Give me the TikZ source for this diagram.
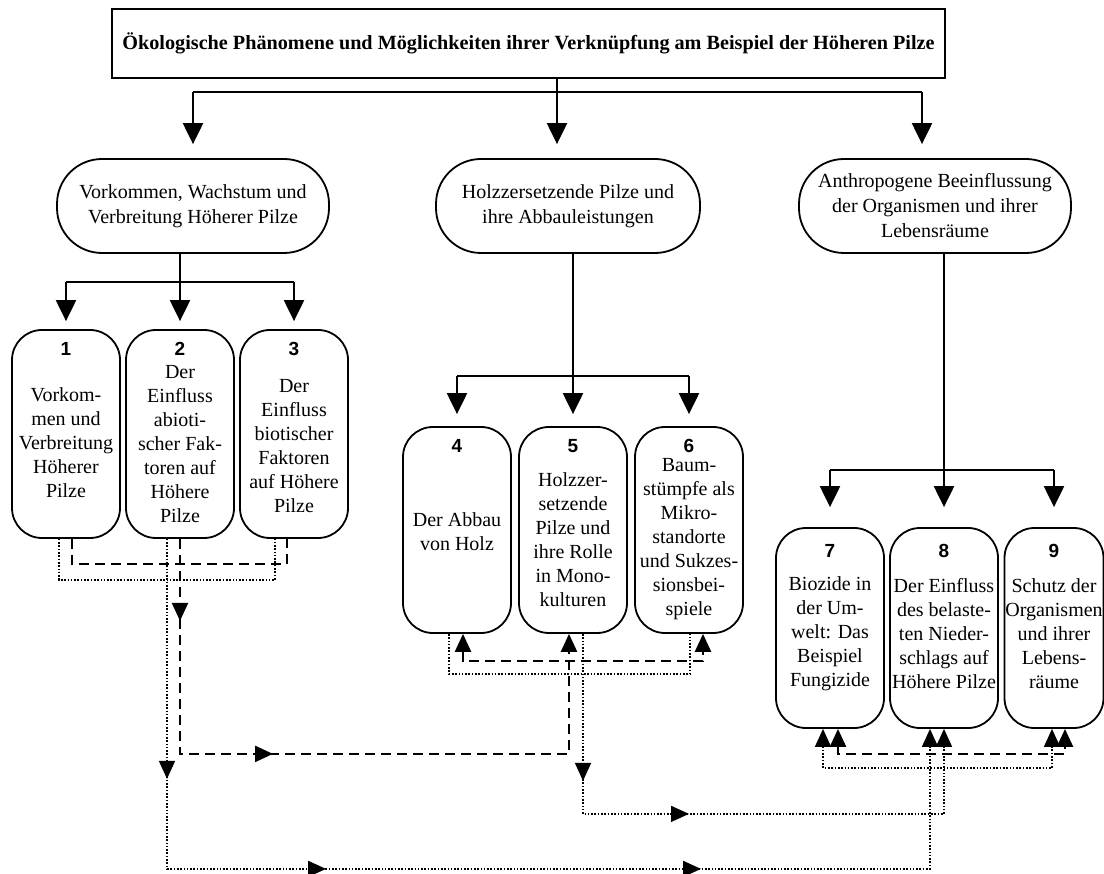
\documentclass[tikz,border=0pt]{standalone}
\usepackage{fontspec}
\setmainfont{Liberation Serif}
\setsansfont{Liberation Sans}
\usetikzlibrary{arrows.meta,positioning,decorations.markings}
\begin{document}
\begin{tikzpicture}[x=1pt, y=-1pt,
    head/.style={draw, line width=2pt, minimum width=833pt, minimum height=69pt, font=\fontsize{20.2}{24}\selectfont\bfseries},
    topic/.style={draw, line width=1.8pt, rounded corners=45pt, minimum width=272pt, minimum height=94pt, align=center, font=\fontsize{20}{25}\selectfont},
    theme/.style={draw, line width=1.8pt, rounded corners=30pt, minimum width=108pt, minimum height=208pt},
    num/.style={inner sep=0pt, font=\fontsize{19}{22}\selectfont\sffamily\bfseries},
    txt/.style={inner sep=0pt, align=center, font=\fontsize{20}{24}\selectfont},
    link/.style={line width=2.2pt},
    dashl/.style={line width=2.4pt, dash pattern=on 10pt off 6pt},
    dotl/.style={line width=1.6pt, dash pattern=on 1.6pt off 1.7pt},
    big/.style={arrows={-Triangle[length=21pt,width=20pt]}},
    arr/.style={arrows={-Triangle[length=18pt,width=16pt]}},
    both/.style={arrows={Triangle[length=18pt,width=16pt]-Triangle[length=18pt,width=16pt]}},
    midarr/.style={postaction={decorate, decoration={markings, mark=at position #1 with {\arrow{Triangle[length=18pt,width=16pt]}}}}}]
        \useasboundingbox (0,0) rectangle (1104,874);
        \node[head] (title) at (528.5,43.5) {Ökologische Phänomene und Möglichkeiten ihrer Verknüpfung am Beispiel der Höheren Pilze};
        \node[topic] (vork) at (193,206) {Vorkommen, Wachstum und\\Verbreitung Höherer Pilze};
        \node[topic, minimum width=264pt] (holz) at (568,206) {Holzzersetzende Pilze und\\ihre Abbauleistungen};
        \node[topic] (anth) at (935,206) {Anthropogene Beeinflussung\\der Organismen und ihrer\\Lebensräume};
        \coordinate (f0) at (557,92);
        \draw[link] (title.south -| f0) -- (f0);
        \draw[link] (f0 -| vork) -- ([xshift=-13pt]f0 -| anth);
        \draw[link, big, shorten >=14pt] (f0 -| vork) -- (vork);
        \draw[link, big, shorten >=14pt] (f0) -- (f0 |- holz.north);
        \draw[link, big, shorten >=14pt] ([xshift=-13pt]f0 -| anth) -- ([xshift=-13pt]anth.north);
        \node[theme] (b1) at (66,434) {};
        \node[theme] (b2) at (180,434) {};
        \node[theme] (b3) at (294,434) {};
        \node[num, below=13pt of b1.north] (n1) {1};
        \node[num, below=13pt of b2.north] (n2) {2};
        \node[num, below=13pt of b3.north] (n3) {3};
        \node[txt] (t1) at ([yshift=-9pt]b1.center) {Vorkom-\\men und\\Verbreitung\\Höherer\\Pilze};
        \node[txt] (t2) at ([yshift=-10pt]b2.center) {Der\\Einfluss\\abioti-\\scher Fak-\\toren auf\\Höhere\\Pilze};
        \node[txt] (t3) at ([yshift=-12pt]b3.center) {Der\\Einfluss\\biotischer\\Faktoren\\auf Höhere\\Pilze};
        \node[theme, minimum height=206pt] (b4) at (457,530) {};
        \node[theme, minimum height=206pt] (b5) at (573,530) {};
        \node[theme, minimum height=206pt] (b6) at (689,530) {};
        \node[num, below=13pt of b4.north] (n4) {4};
        \node[num, below=13pt of b5.north] (n5) {5};
        \node[num, below=13pt of b6.north] (n6) {6};
        \node[txt] (t4) at ([yshift=-2pt]b4.center) {Der Abbau\\von Holz};
        \node[txt] (t5) at ([yshift=-10pt]b5.center) {Holzzer-\\setzende\\Pilze und\\ihre Rolle\\in Mono-\\kulturen};
        \node[txt] (t6) at ([yshift=-9pt]b6.center) {Baum-\\stümpfe als\\Mikro-\\standorte\\und Sukzes-\\sionsbei-\\spiele};
        \node[theme, minimum height=200pt] (b7) at (830,628) {};
        \node[theme, minimum height=200pt] (b8) at (944,628) {};
        \node[theme, minimum height=200pt, minimum width=99pt] (b9) at (1054,628) {};
        \node[num, below=17pt of b7.north] (n7) {7};
        \node[num, below=17pt of b8.north] (n8) {8};
        \node[num, below=17pt of b9.north] (n9) {9};
        \node[txt] (t7) at ([yshift=-6pt]b7.center) {Biozide in\\der Um-\\welt: Das\\Beispiel\\Fungizide};
        \node[txt] (t8) at ([yshift=-6pt]b8.center) {Der Einfluss\\des belaste-\\ten Nieder-\\schlags auf\\Höhere Pilze};
        \node[txt] (t9) at ([yshift=-6pt]b9.center) {Schutz der\\Organismen\\und ihrer\\Lebens-\\räume};
        \coordinate (f1) at (180,282);
        \coordinate (f2) at (573,376);
        \coordinate (f3) at (944,470);
        \draw[link] (vork.south -| f1) -- (f1);
        \draw[link] (f1 -| b1) -- (f1 -| b3);
        \foreach \b in {b1,b2,b3} \draw[link, big, shorten >=8pt] (f1 -| \b) -- (\b);
        \draw[link] (holz.south -| f2) -- (f2);
        \draw[link] (f2 -| b4) -- (f2 -| b6);
        \foreach \b in {b4,b5,b6} \draw[link, big, shorten >=12pt] (f2 -| \b) -- (\b);
        \draw[link] (anth.south -| f3) -- (f3);
        \draw[link] (f3 -| b7) -- (f3 -| b9);
        \foreach \b in {b7,b8,b9} \draw[link, big, shorten >=20pt] (f3 -| \b) -- (\b);
        \draw[dashl] ([xshift=6pt]b1.south) -- ++(0,25) -| ([xshift=-7pt]b3.south);
        \draw[dotl] ([xshift=-7pt]b1.south) -- ++(0,41) -| ([xshift=-19pt]b3.south);
        \draw[dashl, both] ([xshift=6pt]b4.south) -- ++(0,27) -| ([xshift=14pt]b6.south);
        \draw[dotl] ([xshift=-8pt]b4.south) -- ++(0,40) -| ([xshift=1pt]b6.south);
        \draw[dashl, both] ([xshift=8pt]b7.south) -- ++(0,25) -| ([xshift=11pt]b9.south);
        \draw[dotl, both] ([xshift=-7pt]b7.south) -- ++(0,39) -| ([xshift=-2pt]b9.south);
        \draw[dashl, arr, midarr=82pt, midarr=308pt] (b2.south) -- ++(0,215) -| ([xshift=-4pt]b5.south);
        \draw[dotl, arr, midarr=240pt, midarr=489pt, midarr=864pt] ([xshift=-13pt]b2.south) -- ++(0,330) -| ([xshift=-14pt]b8.south);
        \draw[dotl, arr, midarr=147pt, midarr=286pt] ([xshift=10pt]b5.south) -- ++(0,180) -| (b8.south);
    \end{tikzpicture}
\end{document}
